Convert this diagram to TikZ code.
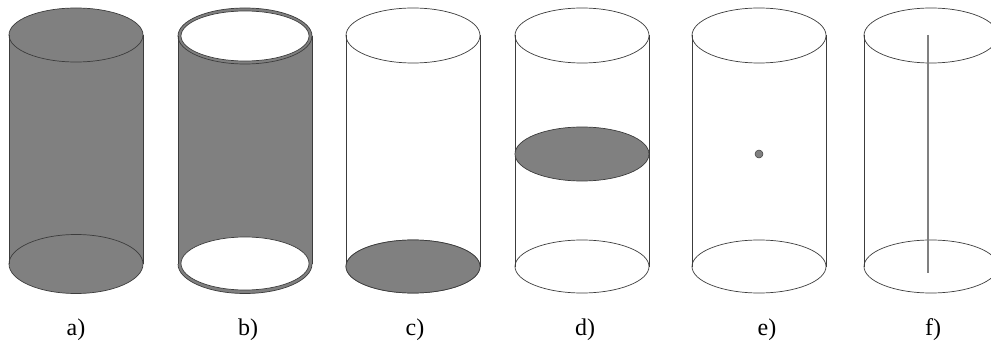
\documentclass[tikz,border=0pt]{standalone}
\usepackage{fontspec}
\setmainfont{Liberation Serif}
\usepackage{xcolor}
\definecolor{bodygray}{RGB}{128,128,128}
\definecolor{edge}{RGB}{60,60,60}
\tikzset{
  wire/.style={draw=edge, line width=0.7pt},
  tag/.style={font=\fontsize{24}{26}\selectfont, inner sep=0pt}
}
\begin{document}
\begin{tikzpicture}[x=1pt, y=-1pt]
  \clip (0,0) rectangle (991,345);
  \fill[white] (0,0) rectangle (991,345);
  % a) full solid
  \fill[bodygray] (9,35) -- (143,35) -- (143,264) arc (0:-180:67 and -29.5) -- cycle;
  \fill[bodygray] (76,35) ellipse (67 and 27);
  \draw[wire] (76,35) ellipse (67 and 27);
  \draw[wire] (76,264) ellipse (67 and 29.5);
  \draw[wire] (9,35) -- (9,264);
  \draw[wire] (143,35) -- (143,264);
  % b) shell
  \fill[bodygray] (178,36) -- (312,36) -- (312,264) arc (0:-180:67 and -29.5) -- cycle;
  \fill[bodygray] (245,36) ellipse (67 and 28);
  \draw[wire] (245,36) ellipse (67 and 28);
  \draw[wire] (178,36) -- (178,264);
  \draw[wire] (312,36) -- (312,264);
  \draw[wire] (178,264) arc (180:360:67 and -29.5);
  \draw[wire, fill=white] (245,36) ellipse (64 and 25);
  \draw[wire, fill=white] (245,263.5) ellipse (64 and 26.5);
  % empty cylinders c) d) e) f)
  \foreach \cx in {413,582,759,931} {
    \draw[wire] (\cx,35.5) ellipse (67 and 27.5);
    \draw[wire] (\cx,266.5) ellipse (67 and 26.5);
    \draw[wire] (\cx-67,35.5) -- (\cx-67,266.5);
    \draw[wire] (\cx+67,35.5) -- (\cx+67,266.5);
  }
  % c) base, d) section
  \draw[wire, fill=bodygray] (413,266.5) ellipse (67 and 26.5);
  \draw[wire, fill=bodygray] (582,154) ellipse (67 and 27);
  % e) point, f) axis
  \draw[edge, fill=bodygray, line width=0.5pt] (759,154) circle (4);
  \draw[bodygray, line width=1.8pt] (928,35) -- (928,273);
  % labels
  \foreach \name/\px/\txt in {la/76/a), lb/248/b), lc/415/c), ld/585/d), le/767/e), lf/933/f)} {
    \node[tag] (\name) at (\px,330) {\txt};
  }
\end{tikzpicture}
\end{document}
